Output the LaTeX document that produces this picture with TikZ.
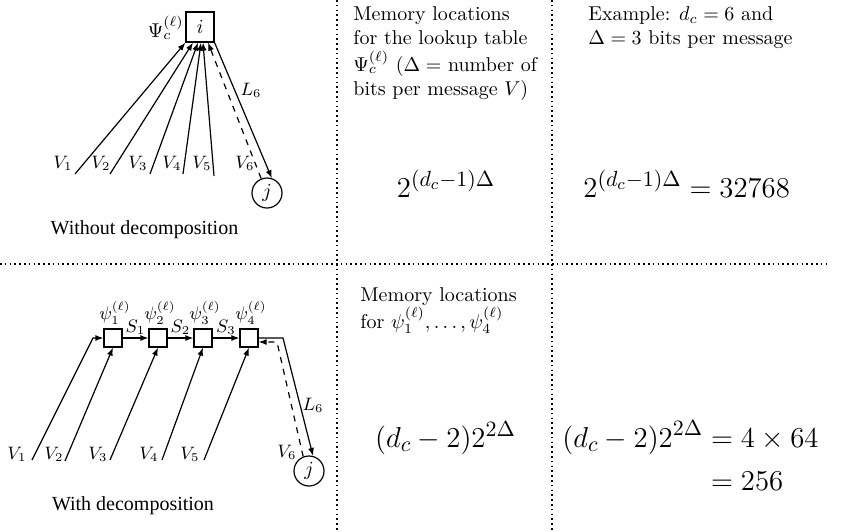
\documentclass[tikz,border=0pt]{standalone}
\usepackage{amsmath}
\usepackage{fontspec}
\newfontfamily\timesfont{Liberation Serif}
\usetikzlibrary{arrows.meta,calc}
\begin{document}
\begin{tikzpicture}[x=0.5pt,y=-0.5pt,
  conn/.style={line width=0.6pt,-{Latex[length=4pt,width=3pt]}},
  plain/.style={line width=0.6pt},
  ret/.style={conn,dashed},
  sepline/.style={line width=0.75pt,dash pattern=on 0.75pt off 1.65pt},
  bigbox/.style={draw,line width=0.6pt,minimum width=14pt,minimum height=15pt,inner sep=0pt},
  smallbox/.style={draw,line width=0.6pt,minimum size=9pt,inner sep=0pt},
  vnode/.style={circle,draw,line width=0.6pt,minimum size=15pt,inner sep=0pt},
  lab/.style={inner sep=0pt,font=\small},
  captext/.style={inner sep=0pt,font=\timesfont},
  txt/.style={inner sep=0pt,align=left,anchor=north west},
  big/.style={inner sep=0pt,font=\fontsize{15.5}{18.5}\selectfont}
]
\useasboundingbox (0,0) rectangle (842,531);

% separators
\coordinate (h1) at (0,264);
\coordinate (h2) at (828,264);
\coordinate (va1) at (337,0);
\coordinate (vb1) at (337,531);
\coordinate (va2) at (552,0);
\coordinate (vb2) at (552,531);
\draw[sepline] (h1) -- (h2);
\draw[sepline] (va1) -- (vb1);
\draw[sepline] (va2) -- (vb2);

% ---------- without decomposition ----------
\node[bigbox] (i) at (200,27) {$i$};
\node[inner sep=0pt,anchor=base east] (psi) at (184,37) {$\Psi_c^{(\ell)}$};
\node[vnode] (j) at (267,193) {$j$};

\coordinate (a1) at (75,174);
\coordinate (a2) at (110,174);
\coordinate (a3) at (150,174);
\coordinate (a4) at (183,174);
\coordinate (a5) at (214,176);
\draw[conn] (a1) -- (i.south west);
\draw[conn] (a2) -- ($(i.south)+(-7,0)$);
\draw[conn] (a3) -- ($(i.south)+(-2,0)$);
\draw[conn] (a4) -- ($(i.south)+(1,0)$);
\draw[conn] (a5) -- ($(i.south)+(3,0)$);
\draw[conn] (i.south east) -- (j.72);
\draw[ret] (j.112) -- ($(i.south)+(8,0)$);

\node[lab,anchor=base] (tv1) at (63,168) {$V_1$};
\node[lab,anchor=base] (tv2) at (101,168) {$V_2$};
\node[lab,anchor=base] (tv3) at (138,168) {$V_3$};
\node[lab,anchor=base] (tv4) at (172,168) {$V_4$};
\node[lab,anchor=base] (tv5) at (202,168) {$V_5$};
\node[lab,anchor=base] (tv6) at (245,168) {$V_6$};
\node[lab,anchor=base] (tl6) at (251,95) {$L_6$};
\node[captext,anchor=base] (cap1) at (144.5,234) {Without decomposition};

% ---------- with decomposition ----------
\node[smallbox] (b1) at (113,338) {};
\node[smallbox] (b2) at (158,338) {};
\node[smallbox] (b3) at (203,338) {};
\node[smallbox] (b4) at (249,338) {};
\node[vnode] (j2) at (309,471) {$j$};

\node[lab,anchor=south] (p1) at ($(b1.north)+(2,-4)$) {$\psi_1^{(\ell)}$};
\node[lab,anchor=south] (p2) at ($(b2.north)+(2,-4)$) {$\psi_2^{(\ell)}$};
\node[lab,anchor=south] (p3) at ($(b3.north)+(2,-4)$) {$\psi_3^{(\ell)}$};
\node[lab,anchor=south] (p4) at ($(b4.north)+(2,-4)$) {$\psi_4^{(\ell)}$};

\draw[conn] (b1.east) -- node[lab,above=1.5pt] {$S_1$} (b2.west);
\draw[conn] (b2.east) -- node[lab,above=1.5pt] {$S_2$} (b3.west);
\draw[conn] (b3.east) -- node[lab,above=1.5pt] {$S_3$} (b4.west);

\coordinate (d1) at (32,460);
\coordinate (c1) at (93,338);
\coordinate (d2) at (65,461);
\coordinate (d3) at (110,460);
\coordinate (d4) at (162,460);
\coordinate (d5) at (204,460);
\coordinate (c6) at (283,338);
\coordinate (r6) at (277,342);
\draw[conn] (d1) -- (c1) -- (b1.west);
\draw[conn] (d2) -- (b1.south);
\draw[conn] (d3) -- (b2.south);
\draw[conn] (d4) -- (b3.south);
\draw[conn] (d5) -- (b4.south);
\draw[conn] (b4.east) -- (c6) -- (j2.75);
\draw[ret] (j2.112) -- (r6) -- ($(b4.east)+(0,4)$);

\node[lab,anchor=base] (bv1) at (17,459) {$V_1$};
\node[lab,anchor=base] (bv2) at (54,459) {$V_2$};
\node[lab,anchor=base] (bv3) at (98,459) {$V_3$};
\node[lab,anchor=base] (bv4) at (149,459) {$V_4$};
\node[lab,anchor=base] (bv5) at (190,459) {$V_5$};
\node[lab,anchor=base] (bv6) at (287,457) {$V_6$};
\node[lab,anchor=base] (bl6) at (313,410) {$L_6$};
\node[captext,anchor=base] (cap2) at (133,510) {With decomposition};

% ---------- text columns ----------
\node[txt] (m1) at (353,6.5) {Memory locations\\for the lookup table\\$\Psi_c^{(\ell)}$ ($\Delta=$ number of\\bits per message $V$)};
\node[txt] (e1) at (588,6.5) {Example: $d_c=6$ and\\$\Delta=3$ bits per message};
\node[big,anchor=base] (f1) at (446,197) {$2^{(d_c-1)\Delta}$};
\node[big,anchor=base west] (f2) at (583,197) {$2^{(d_c-1)\Delta}=32768$};

\node[txt] (m2) at (360,287) {Memory locations\\for $\psi_1^{(\ell)},\ldots,\psi_4^{(\ell)}$};
\node[big,anchor=base] (f3) at (445.5,447) {$(d_c-2)2^{2\Delta}$};
\node[big,anchor=base west] (f4) at (562,447) {$\begin{aligned}[t](d_c-2)2^{2\Delta}&=4\times 64\\&=256\end{aligned}$};
\end{tikzpicture}
\end{document}
